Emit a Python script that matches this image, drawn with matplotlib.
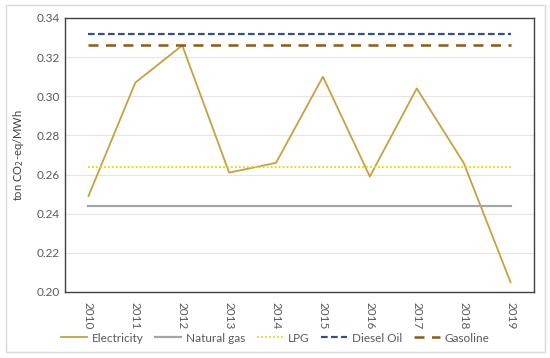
import matplotlib.pyplot as plt
from matplotlib.patches import Rectangle

years = ['2010', '2011', '2012', '2013', '2014', '2015', '2016', '2017', '2018', '2019']
electricity = [0.249, 0.307, 0.326, 0.261, 0.266, 0.310, 0.259, 0.304, 0.266, 0.205]
natural_gas = [0.244] * 10
lpg = [0.264] * 10
diesel_oil = [0.332] * 10
gasoline = [0.326] * 10

plt.rcParams['font.family'] = ['Lato', 'DejaVu Sans']

fig = plt.figure(figsize=(5.5, 3.58), dpi=100)
ax = fig.add_axes([65 / 550, 1 - 292 / 358, (534 - 65) / 550, (292 - 18) / 358])

# outer chart border
fig.patches.append(Rectangle((6 / 550, 1 - 352 / 358), 539 / 550, 347 / 358,
                             transform=fig.transFigure, fill=False,
                             edgecolor='#d9d9d9', linewidth=1))

x = list(range(len(years)))
ax.plot(x, electricity, color='#C9A040', lw=1.3, label='Electricity')
ax.plot(x, natural_gas, color='#A5A5A5', lw=1.6, label='Natural gas')
ax.plot(x, lpg, color='#E8D800', lw=1.3, ls=(0, (1, 1.2)), label='LPG')
ax.plot(x, diesel_oil, color='#2F4F8F', lw=1.6, ls=(0, (3, 1.5)), label='Diesel Oil')
ax.plot(x, gasoline, color='#8C5A14', lw=1.8, ls=(0, (4, 3)), label='Gasoline')

ax.set_xlim(-0.5, 9.5)
ax.set_ylim(0.20, 0.34)
ax.set_yticks([0.20, 0.22, 0.24, 0.26, 0.28, 0.30, 0.32, 0.34])
ax.set_yticklabels(['%.2f' % v for v in ax.get_yticks()])
ax.set_xticks(x)
ax.set_xticklabels(years, rotation=-90)
ax.tick_params(axis='both', length=0, labelsize=8.5, labelcolor='#595959')
ax.tick_params(axis='x', pad=7)
ax.grid(axis='y', color='#e5e5e5', lw=0.8)
ax.set_axisbelow(True)
for s in ax.spines.values():
    s.set_color('#404040')
    s.set_linewidth(1.0)

ax.set_ylabel('ton CO$_2$-eq/MWh', fontsize=8, color='#404040', labelpad=8)

fig.legend(loc='center', bbox_to_anchor=(0.5, 1 - 338 / 358), ncol=5, frameon=False,
           fontsize=8.5, labelcolor='#595959', handlelength=2.2, columnspacing=1.0,
           handletextpad=0.4)

fig.savefig('out.png', dpi=100)
